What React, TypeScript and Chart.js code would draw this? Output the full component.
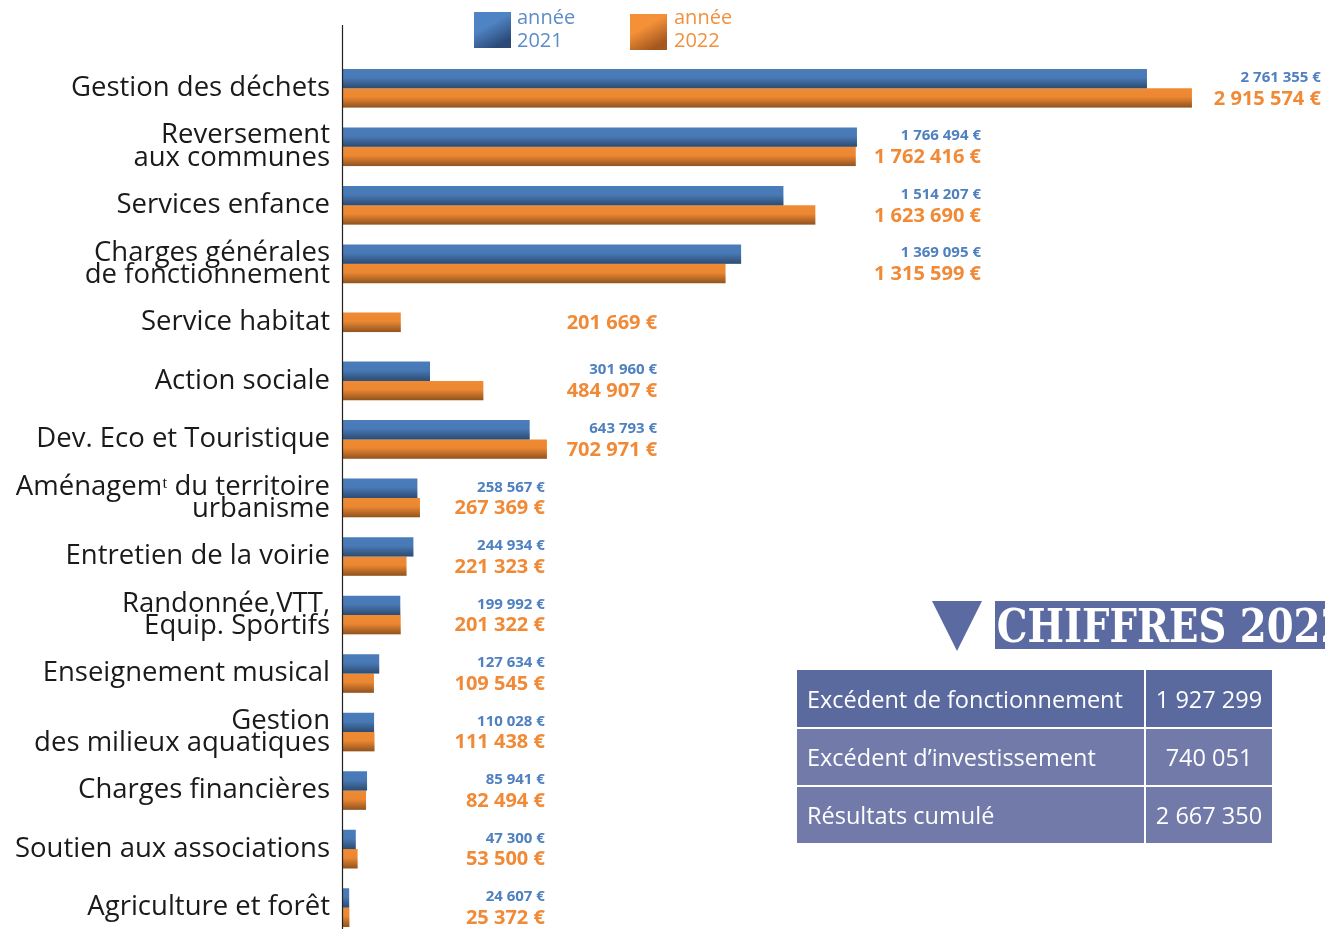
import React, { useEffect, useRef } from "react";
import { Chart, registerables } from "chart.js";

Chart.register(...registerables);

// ---------- DATA ----------
const categories: string[][] = [
  ["Gestion des déchets"],
  ["Reversement", "aux communes"],
  ["Services enfance"],
  ["Charges générales", "de fonctionnement"],
  ["Service habitat"],
  ["Action sociale"],
  ["Dev. Eco et Touristique"],
  ["Aménagemᵗ du territoire", "urbanisme"],
  ["Entretien de la voirie"],
  ["Randonnée,VTT,", "Equip. Sportifs"],
  ["Enseignement musical"],
  ["Gestion", "des milieux aquatiques"],
  ["Charges financières"],
  ["Soutien aux associations"],
  ["Agriculture et forêt"],
];

const series2021Label = "année 2021";
const series2022Label = "année 2022";

const values2021: (number | null)[] = [
  2761355, 1766494, 1514207, 1369095, null, 301960, 643793, 258567, 244934,
  199992, 127634, 110028, 85941, 47300, 24607,
];

const values2022: (number | null)[] = [
  2915574, 1762416, 1623690, 1315599, 201669, 484907, 702971, 267369, 221323,
  201322, 109545, 111438, 82494, 53500, 25372,
];

const summaryTitle = "CHIFFRES 2022";
const summaryLabels = [
  "Excédent de fonctionnement",
  "Excédent d’investissement",
  "Résultats cumulé",
];
const summaryValues = ["1 927 299", "740 051", "2 667 350"];

// ---------- STYLE ----------
const BLUE = "#4a7cba";
const ORANGE = "#f08a33";
const BLUE_TEXT = "#4f80c0";
const ORANGE_TEXT = "#f08a37";
const BLUE_LEGEND_TEXT = "#5d8cc8";
const ORANGE_LEGEND_TEXT = "#f0913f";

const fmt = (v: number) =>
  String(Math.round(v)).replace(/\B(?=(\d{3})+(?!\d))/g, " ") + " €";

const decorPlugin = {
  id: "decor",
  afterDatasetsDraw(chart: any, _args: any, opts: any) {
    const ctx: CanvasRenderingContext2D = chart.ctx;
    const xs = chart.scales.x;
    // gradient shading on bars
    chart.data.datasets.forEach((ds: any, di: number) => {
      const meta = chart.getDatasetMeta(di);
      meta.data.forEach((el: any, i: number) => {
        if (ds.data[i] == null) return;
        const { x, y, base, height } = el.getProps(["x", "y", "base", "height"], true);
        const top = y - height / 2;
        const g = ctx.createLinearGradient(0, top, 0, top + height);
        g.addColorStop(0, "rgba(0,0,0,0)");
        g.addColorStop(0.45, "rgba(0,0,0,0.02)");
        g.addColorStop(1, "rgba(0,0,0,0.4)");
        ctx.save();
        ctx.fillStyle = g;
        ctx.fillRect(Math.min(base, x), top, Math.abs(x - base), height);
        ctx.restore();
      });
    });

    // axis line
    const x0 = Math.round(xs.getPixelForValue(0)) + 0.5;
    ctx.save();
    ctx.strokeStyle = "#222";
    ctx.lineWidth = 1.2;
    ctx.beginPath();
    ctx.moveTo(x0, 25);
    ctx.lineTo(x0, chart.height);
    ctx.stroke();
    ctx.restore();

    // value labels
    const cols: number[] = opts.columns;
    chart.data.datasets.forEach((ds: any, di: number) => {
      const meta = chart.getDatasetMeta(di);
      ctx.save();
      ctx.textAlign = "right";
      ctx.textBaseline = "middle";
      ctx.fillStyle = di === 0 ? BLUE_TEXT : ORANGE_TEXT;
      ctx.font = di === 0 ? "bold 15px 'Open Sans'" : "bold 20px 'Open Sans'";
      meta.data.forEach((el: any, i: number) => {
        const v = ds.data[i];
        if (v == null) return;
        const px = xs.getPixelForValue(cols[i]);
        const { y } = el.getProps(["y"], true);
        ctx.fillText(fmt(v), px, y + (di === 0 ? -1 : 1));
      });
      ctx.restore();
    });

    // legend
    const legendPos = [
      { x: 474, y: 12, tx: 517, c1: "#4f84c4", c2: "#2b4a78", tc: BLUE_LEGEND_TEXT },
      { x: 630, y: 14, tx: 674, c1: "#f39038", c2: "#a5581e", tc: ORANGE_LEGEND_TEXT },
    ];
    chart.data.datasets.forEach((ds: any, di: number) => {
      const p = legendPos[di];
      ctx.save();
      const g = ctx.createLinearGradient(p.x, p.y, p.x + 20, p.y + 36);
      g.addColorStop(0, p.c1);
      g.addColorStop(0.45, p.c1);
      g.addColorStop(1, p.c2);
      ctx.fillStyle = g;
      ctx.fillRect(p.x, p.y, 37, 36);
      ctx.fillStyle = p.tc;
      ctx.font = "20px 'Open Sans'";
      ctx.textAlign = "left";
      ctx.textBaseline = "middle";
      const parts = String(ds.label).split(" ");
      ctx.fillText(parts[0], p.tx, 18);
      ctx.fillText(parts.slice(1).join(" "), p.tx, 41);
      ctx.restore();
    });
  },
};

export default function App() {
  const canvasRef = useRef<HTMLCanvasElement | null>(null);

  useEffect(() => {
    const canvas = canvasRef.current;
    if (!canvas) return;
    const chart = new Chart(canvas, {
      type: "bar",
      data: {
        labels: categories,
        datasets: [
          { label: series2021Label, data: values2021, backgroundColor: BLUE },
          { label: series2022Label, data: values2022, backgroundColor: ORANGE },
        ],
      },
      options: {
        indexAxis: "y",
        responsive: false,
        animation: false,
        layout: { padding: { top: 59, right: 21, bottom: 0, left: 0 } },
        datasets: {
          bar: {
            barPercentage: 1,
            categoryPercentage: 0.66,
            maxBarThickness: 19.5,
            skipNull: true,
          },
        },
        scales: {
          x: { display: false, min: 0, max: 3300000 },
          y: {
            grid: { display: false, drawTicks: false },
            border: { display: false },
            ticks: {
              autoSkip: false,
              padding: 12,
              color: "#1a1a1a",
              font: { family: "'Open Sans'", size: 27.5, weight: "400", lineHeight: 0.81 },
            },
            afterFit: (s: any) => {
              s.width = 342;
            },
          },
        },
        plugins: {
          legend: { display: false },
          tooltip: { enabled: false },
          decor: {
            columns: [
              3358000, 2192000, 2192000, 2192000, 1081000, 1081000, 1081000,
              696000, 696000, 696000, 696000, 696000, 696000, 696000, 696000,
            ],
          },
        } as any,
      },
      plugins: [decorPlugin],
    } as any);
    return () => chart.destroy();
  }, []);

  return (
    <div
      style={{
        position: "absolute",
        left: 0,
        top: 0,
        width: 1325,
        height: 929,
        overflow: "hidden",
        background: "#fff",
        fontFamily: "'Open Sans', sans-serif",
      }}
    >
      <canvas
        ref={canvasRef}
        width={1325}
        height={960}
        style={{ position: "absolute", left: 0, top: 0, width: 1325, height: 960 }}
      />
      {/* triangle */}
      <div
        style={{
          position: "absolute",
          left: 932,
          top: 601,
          width: 50,
          height: 50,
          background: "#5b6aa0",
          clipPath: "polygon(0 0, 100% 0, 50% 100%)",
          filter: "drop-shadow(-2px 2px 2px rgba(0,0,0,0.3))",
        }}
      />
      {/* title */}
      <div
        style={{
          position: "absolute",
          left: 995,
          top: 601,
          width: 400,
          height: 48,
          background: "#5b6aa0",
          color: "#fff",
          fontFamily: "'DejaVu Serif', serif",
          fontWeight: 700,
          fontSize: 46,
          lineHeight: "50px",
          whiteSpace: "nowrap",
        }}
      >
        <span
          style={{
            display: "inline-block",
            transform: "scaleX(0.84)",
            transformOrigin: "left center",
            paddingLeft: 2,
          }}
        >
          {summaryTitle}
        </span>
      </div>
      {/* table */}
      <div style={{ position: "absolute", left: 797, top: 670 }}>
        {summaryLabels.map((lab, i) => (
          <div key={i} style={{ display: "flex", marginBottom: 2 }}>
            <div
              style={{
                width: 347,
                height: i === 0 ? 57 : 56,
                background: i === 0 ? "#5a699e" : "#717aa9",
                color: "#fff",
                fontSize: 23.5,
                display: "flex",
                alignItems: "center",
                paddingLeft: 10,
                boxSizing: "border-box",
                marginRight: 2,
              }}
            >
              {lab}
            </div>
            <div
              style={{
                width: 126,
                height: i === 0 ? 57 : 56,
                background: i === 0 ? "#5a699e" : "#717aa9",
                color: "#fff",
                fontSize: 23.5,
                display: "flex",
                alignItems: "center",
                justifyContent: "center",
              }}
            >
              {summaryValues[i]}
            </div>
          </div>
        ))}
      </div>
    </div>
  );
}
